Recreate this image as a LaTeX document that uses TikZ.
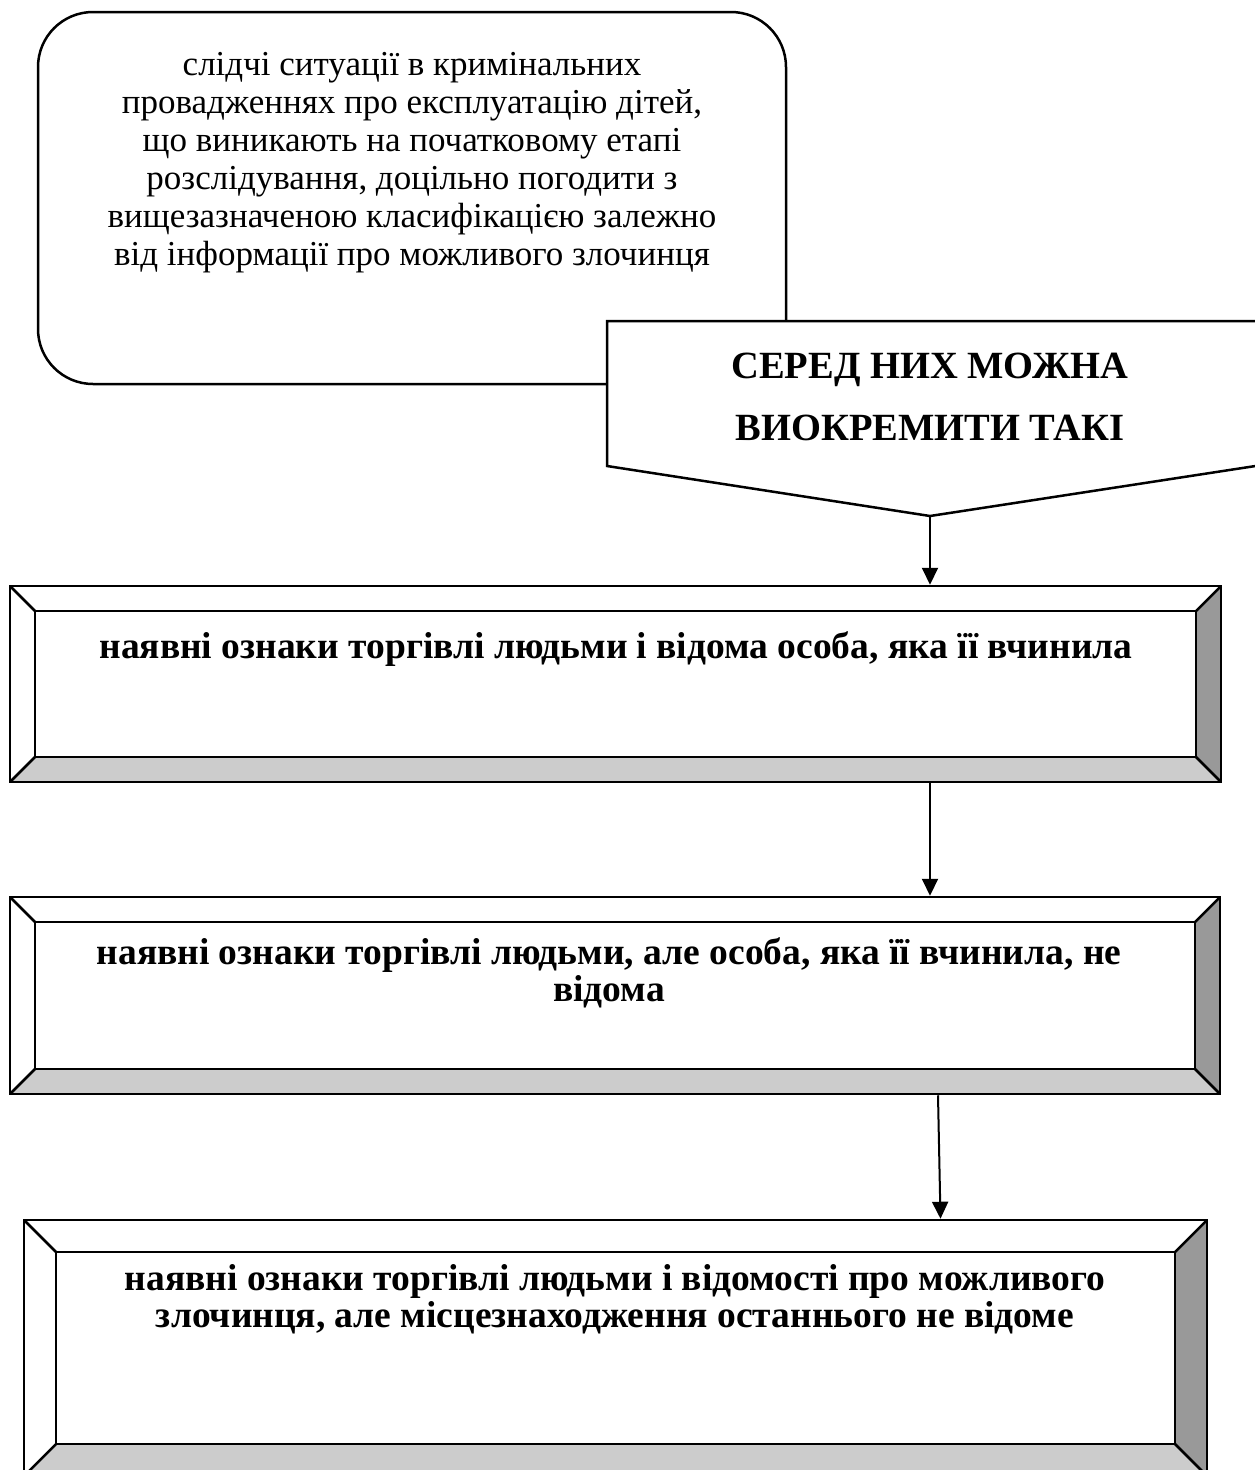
\documentclass[tikz,border=0pt]{standalone}
\usepackage{fontspec}
\setmainfont{Liberation Serif}
\usetikzlibrary{calc,positioning,arrows.meta}

\begin{document}
\begin{tikzpicture}[x=1pt,y=-1pt,line width=2.5pt]
    % `situation' is the rounded box at the top, `callout' the pointed one.
    % `bevelbox' is used for the three framed boxes (bevel width as argument).
    \tikzstyle{situation} = [draw,fill=white,rounded corners=55pt,minimum width=748pt,minimum height=372pt]
    \tikzstyle{callout} = [draw,fill=white]
    \tikzstyle{sittext} = [align=center,font=\fontsize{35}{38}\selectfont]
    \tikzstyle{calltext} = [align=center,font=\bfseries\fontsize{38.5}{62}\selectfont]
    \tikzstyle{boxtext} = [align=center,font=\bfseries\fontsize{37.5}{37.5}\selectfont]
    \tikzstyle{arrow} = [-{Triangle[length=17pt,width=16pt]},line width=2pt]
    \tikzset{bevelbox/.style={draw,fill=white,inner sep=0pt,path picture={
        \path (path picture bounding box.south west) coordinate (bsw)
              (path picture bounding box.south east) coordinate (bse)
              (path picture bounding box.north east) coordinate (bne)
              (path picture bounding box.north west) coordinate (bnw);
        \fill[black!20] (bsw) -- ($(bsw)+(#1,#1)$) -- ($(bse)+(-#1,#1)$) -- (bse) -- cycle;
        \fill[black!40] (bse) -- ($(bse)+(-#1,#1)$) -- ($(bne)+(-#1,-#1)$) -- (bne) -- cycle;
        \draw ($(bnw)+(#1,-#1)$) rectangle ($(bse)+(-#1,#1)$);
        \draw (bnw) -- ++(#1,-#1) (bne) -- ++(-#1,-#1)
              (bsw) -- ++(#1,#1) (bse) -- ++(-#1,#1);
    }},bevelbox/.default=25pt}
    %
    \useasboundingbox (0,0) rectangle (1255,1470);
    %
    \node[situation] (sit) at (412,198) {};
    \node[sittext] (sitText) at (412,163) {слідчі ситуації в кримінальних\\
      провадженнях про експлуатацію дітей,\\
      що виникають на початковому етапі\\
      розслідування, доцільно погодити з\\
      вищезазначеною класифікацією залежно\\
      від інформації про можливого злочинця};
    % Pointed box over the corner of the rounded one.
    \draw[callout] (607,466) -- (607,321) -- (1262,321) -- (1262,465)
                   -- (930,516) coordinate (tip) -- cycle;
    \node[calltext] (among) at (930,397) {СЕРЕД НИХ МОЖНА\\ВИОКРЕМИТИ ТАКІ};
    %
    \node[bevelbox, minimum width=1211pt, minimum height=196pt] (box1) at (615.5,684) {};
    \node[boxtext] (known) at (616,649) {наявні ознаки торгівлі людьми і відома особа, яка її вчинила};
    %
    \node[bevelbox, minimum width=1210pt, minimum height=197pt] (box2) at (615,995.5) {};
    \node[boxtext] (unknown) at (609,973) {наявні ознаки торгівлі людьми, але особа, яка її вчинила, не\\відома};
    %
    \node[bevelbox=32pt, minimum width=1183pt, minimum height=256pt] (box3) at (615.5,1348) {};
    \node[boxtext] (hidden) at (615,1299) {наявні ознаки торгівлі людьми і відомості про можливого\\
      злочинця, але місцезнаходження останнього не відоме};
    % Arrows.
    \draw[arrow] (tip) -- (tip |- box1.north);
    \draw[arrow] (box1.south -| tip) -- (box2.north -| tip);
    \draw[arrow] ([xshift=323pt]box2.south) -- ([xshift=325pt]box3.north);
\end{tikzpicture}
\end{document}
